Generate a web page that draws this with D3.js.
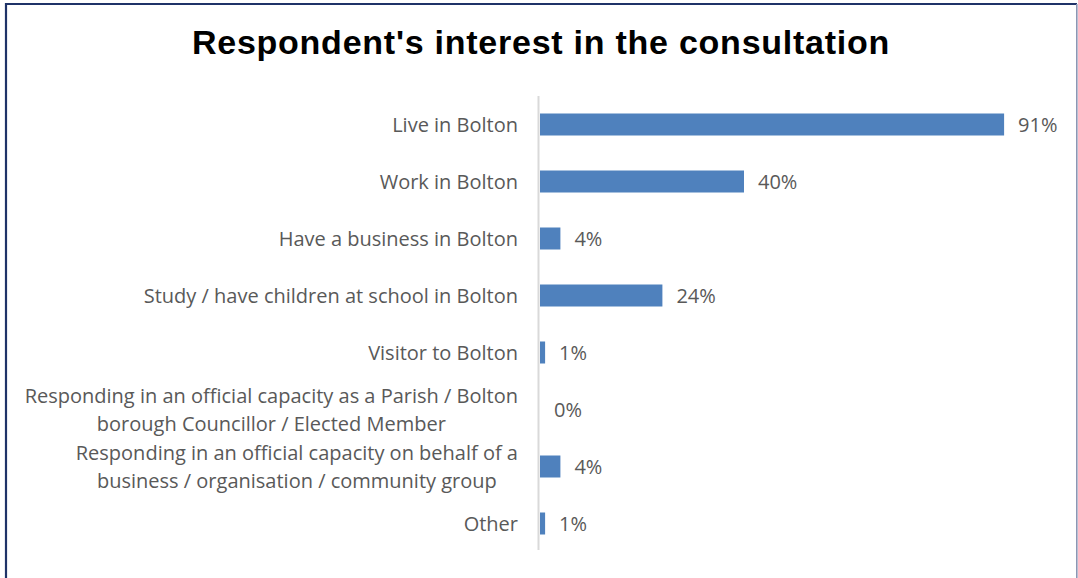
<!DOCTYPE html>
<html>
<head>
<meta charset="utf-8">
<script src="https://cdn.jsdelivr.net/npm/d3@7/dist/d3.min.js"></script>
<style>
  html, body { margin: 0; padding: 0; background: #ffffff; }
  svg { display: block; }
</style>
</head>
<body>
<script>
// Survey question: respondent's interest in the consultation (% of respondents)
const title = "Respondent's interest in the consultation";
const categories = [
  "Live in Bolton",
  "Work in Bolton",
  "Have a business in Bolton",
  "Study / have children at school in Bolton",
  "Visitor to Bolton",
  "Responding in an official capacity as a Parish / Bolton\nborough Councillor / Elected Member",
  "Responding in an official capacity on behalf of a\nbusiness / organisation / community group",
  "Other"
];
const values = [91, 40, 4, 24, 1, 0, 4, 1];

const W = 1078, H = 578;
const labelFont = "'Open Sans', 'Noto Sans', sans-serif";
const textColor = "#595959";
const barColor = "#4f81bd";

const svg = d3.select("body").append("svg")
  .attr("width", W).attr("height", H);

svg.append("rect").attr("width", W).attr("height", H).attr("fill", "#fff");

// frame
svg.append("path")
  .attr("d", `M6,${H} V4 H${W - 1}`)
  .attr("fill", "none").attr("stroke", "#1f3368").attr("stroke-width", 2.2);
svg.append("line")
  .attr("x1", W - 1.2).attr("x2", W - 1.2).attr("y1", 4).attr("y2", H)
  .attr("stroke", "#8c96b4").attr("stroke-width", 1.6);

// title
svg.append("text")
  .attr("x", 541).attr("y", 54)
  .attr("text-anchor", "middle")
  .attr("font-family", "'Liberation Sans', Arial, sans-serif")
  .attr("font-weight", "bold")
  .attr("font-size", 34)
  .attr("letter-spacing", 0.75)
  .attr("fill", "#000")
  .text(title);

const x0 = 540;
const x = d3.scaleLinear().domain([0, 100]).range([x0, x0 + 510]);
const y = d3.scaleBand().domain(categories).range([96, 552])
  .paddingInner(0.614).paddingOuter(0.307);

// bars
svg.append("g").selectAll("rect")
  .data(values)
  .join("rect")
  .attr("x", x(0))
  .attr("y", (d, i) => y(categories[i]))
  .attr("width", d => x(d) - x(0))
  .attr("height", y.bandwidth())
  .attr("fill", barColor);

// category axis line
svg.append("line")
  .attr("x1", x0 - 1.5).attr("x2", x0 - 1.5)
  .attr("y1", 96).attr("y2", 550)
  .attr("stroke", "#d9d9d9").attr("stroke-width", 2);

// category labels (right aligned, multi-line where needed)
const lineGap = 28;
svg.append("g").selectAll("text")
  .data(categories)
  .join("text")
  .attr("text-anchor", "middle")
  .attr("font-family", labelFont)
  .attr("font-size", 20)
  .attr("fill", textColor)
  .each(function (c) {
    const lines = c.split("\n");
    const cy = y(c) + y.bandwidth() / 2;
    const t = d3.select(this);
    const anchorX = 518;
    lines.forEach((ln, k) => {
      t.append("tspan")
        .attr("y", cy + 7 + (k - (lines.length - 1) / 2) * lineGap)
        .text(ln);
    });
    // lines centred on the widest one, whose right edge sits at anchorX
    const widths = [];
    t.selectAll("tspan").each(function () { widths.push(this.getComputedTextLength()); });
    const maxW = d3.max(widths);
    t.selectAll("tspan").attr("x", anchorX - maxW / 2);
  });

// value labels
svg.append("g").selectAll("text")
  .data(values)
  .join("text")
  .attr("x", d => x(d) + 14)
  .attr("y", (d, i) => y(categories[i]) + y.bandwidth() / 2 + 7)
  .attr("font-family", labelFont)
  .attr("font-size", 20)
  .attr("fill", textColor)
  .text(d => d + "%");
</script>
</body>
</html>
